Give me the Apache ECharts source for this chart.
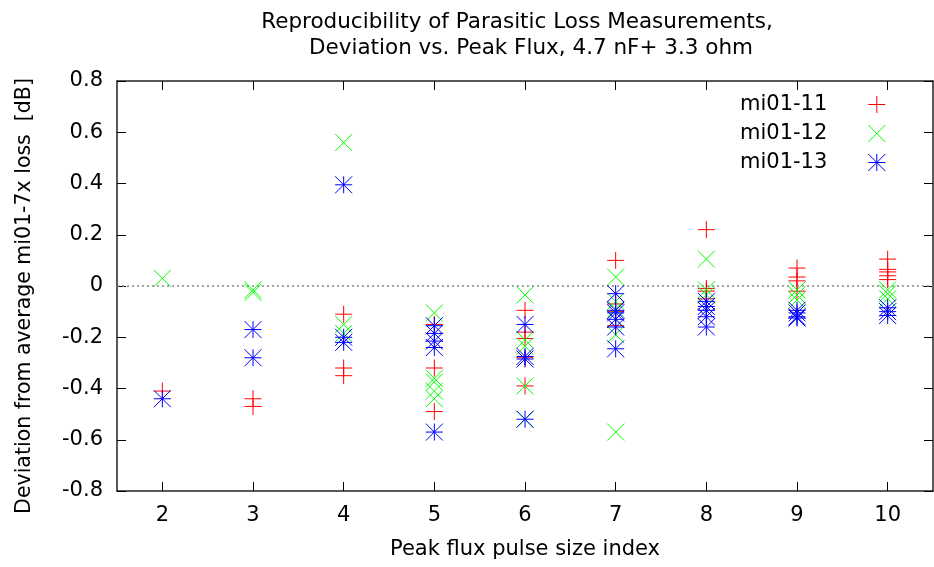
<!DOCTYPE html>
<html>
<head>
<meta charset="utf-8">
<script src="https://cdn.jsdelivr.net/npm/echarts@6/dist/echarts.min.js"></script>
<style>html,body{margin:0;padding:0;background:#fff}#c{width:934px;height:567px}</style>
</head>
<body>
<div id="c"></div>
<script>
// ---- data ----
const titleLine1 = 'Reproducibility of Parasitic Loss Measurements,';
const titleLine2 = 'Deviation vs. Peak Flux, 4.7 nF+ 3.3 ohm';
const xAxisTitle = 'Peak flux pulse size index';
const yAxisTitle = 'Deviation from average mi01-7x loss  [dB]';
const xTicks = [2, 3, 4, 5, 6, 7, 8, 9, 10];
const seriesNames = ['mi01-11', 'mi01-12', 'mi01-13'];
// values grouped per x tick (same order as xTicks)
const mi01_11 = [
  [-0.41],
  [-0.44, -0.47],
  [-0.11, -0.32, -0.35],
  [-0.15, -0.32, -0.49],
  [-0.095, -0.18, -0.205, -0.28, -0.39],
  [0.10, -0.07, -0.10, -0.155],
  [0.22, -0.01, -0.02, -0.05],
  [0.07, 0.035, 0.02, -0.02],
  [0.105, 0.065, 0.055, 0.04, 0.025]
];
const mi01_12 = [
  [0.03],
  [-0.015, -0.025],
  [0.56, -0.15, -0.185],
  [-0.105, -0.36, -0.375, -0.41, -0.44],
  [-0.035, -0.21, -0.235, -0.39, -0.52],
  [0.035, -0.06, -0.09, -0.13, -0.19, -0.57],
  [0.105, -0.015, -0.035],
  [-0.015, -0.035, -0.055],
  [-0.015, -0.03, -0.05]
];
const mi01_13 = [
  [-0.44],
  [-0.17, -0.28],
  [0.395, -0.20, -0.22],
  [-0.155, -0.185, -0.215, -0.24, -0.57],
  [-0.15, -0.275, -0.285, -0.52],
  [-0.03, -0.095, -0.105, -0.13, -0.16, -0.245],
  [-0.06, -0.08, -0.095, -0.12, -0.16],
  [-0.095, -0.105, -0.12, -0.125],
  [-0.085, -0.10, -0.115]
];
const yTickMin = -0.8, yTickMax = 0.8, yTickStep = 0.2;

// ---- build ----
function pairs(groups) {
  const out = [];
  groups.forEach((g, i) => g.forEach(v => out.push([xTicks[i], v])));
  return out;
}
const FONT = 'DejaVu Sans';
const symPlus = 'path://M8,0L8,16M0,8L16,8';
const symCross = 'path://M0,0L16,16M16,0L0,16';
const symStar = 'path://M8,0L8,16M0,8L16,8M0,0L16,16M16,0L0,16';
const colors = ['#ff0000', '#00ff00', '#0000ff'];
const syms = [symPlus, symCross, symStar];
const datasets = [mi01_11, mi01_12, mi01_13];

const axisLineStyle = {show: true, onZero: false, lineStyle: {color: '#222', width: 1.5}};
const tickStyle = {show: true, inside: true, length: 9, lineStyle: {color: '#000', width: 1}};

const chart = echarts.init(document.getElementById('c'), null, {renderer: 'canvas'});
const series = datasets.map((d, i) => ({
  name: seriesNames[i],
  type: 'scatter',
  xAxisIndex: 0, yAxisIndex: 0,
  data: pairs(d),
  symbol: syms[i],
  symbolSize: 17,
  itemStyle: {color: colors[i], borderColor: colors[i], borderWidth: 1, opacity: 1},
  emphasis: {disabled: true},
  z: 3
}));
series[0].markLine = {
  silent: true, symbol: 'none', animation: false,
  label: {show: false},
  lineStyle: {color: '#888', type: [2, 3], width: 1.5},
  data: [{yAxis: 0}],
  z: 1
};

chart.setOption({
  animation: false,
  backgroundColor: '#fff',
  title: [
    {text: titleLine1, left: 512, top: 6, textAlign: 'center',
     textStyle: {fontFamily: FONT, fontSize: 21.5, fontWeight: 'normal', color: '#000'}},
    {text: titleLine2, left: 526, top: 32, textAlign: 'center',
     textStyle: {fontFamily: FONT, fontSize: 21.5, fontWeight: 'normal', color: '#000'}}
  ],
  legend: {
    orient: 'vertical', left: 740, top: 94, align: 'right', padding: 0,
    itemWidth: 17, itemHeight: 17, itemGap: 8,
    itemStyle: {borderWidth: 1},
    textStyle: {fontFamily: FONT, fontSize: 21, color: '#000', lineHeight: 21, padding: [0, 36, 0, 0]},
    data: seriesNames
  },
  grid: {left: 117, right: 1, top: 81, bottom: 76, containLabel: false},
  xAxis: [
    {type: 'value', min: 1.5, max: 10.5, position: 'bottom',
     name: xAxisTitle, nameLocation: 'middle', nameGap: 48,
     nameTextStyle: {fontFamily: FONT, fontSize: 21, color: '#000'},
     axisLine: axisLineStyle, splitLine: {show: false},
     axisTick: Object.assign({}, tickStyle, {customValues: xTicks}),
     axisLabel: {customValues: xTicks, fontFamily: FONT, fontSize: 21, color: '#000', margin: 14}},
    {type: 'value', min: 1.5, max: 10.5, position: 'top',
     axisLine: axisLineStyle, splitLine: {show: false},
     axisTick: Object.assign({}, tickStyle, {customValues: xTicks}),
     axisLabel: {show: false}}
  ],
  yAxis: [
    {type: 'value', min: yTickMin, max: yTickMax, interval: yTickStep, position: 'left',
     name: yAxisTitle, nameLocation: 'middle', nameGap: 82,
     nameTextStyle: {fontFamily: FONT, fontSize: 20.5, color: '#000', padding: [0, 20, 0, 0]},
     axisLine: axisLineStyle, splitLine: {show: false}, axisTick: tickStyle,
     axisLabel: {fontFamily: FONT, fontSize: 21, color: '#000', margin: 14,
       formatter: v => Math.abs(v) < 1e-9 ? '0' : v.toFixed(1)}},
    {type: 'value', min: yTickMin, max: yTickMax, interval: yTickStep, position: 'right',
     axisLine: axisLineStyle, splitLine: {show: false}, axisTick: tickStyle,
     axisLabel: {show: false}}
  ],
  series: series
});
</script>
</body>
</html>
